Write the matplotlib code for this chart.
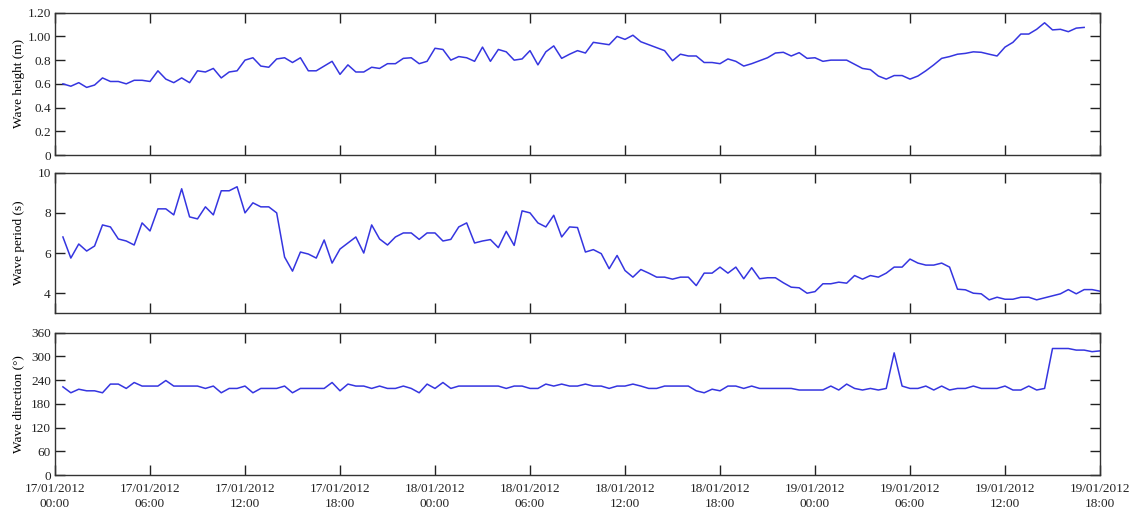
import numpy as np
import pandas as pd
import matplotlib
matplotlib.use("Agg")
import matplotlib.pyplot as plt
import matplotlib.dates as mdates

plt.rcParams['font.family'] = ['Liberation Serif', 'DejaVu Serif']

# Wave height (m), half-hourly from 17/01/2012 00:30
height = [0.60, 0.58, 0.61, 0.57, 0.59, 0.65, 0.62, 0.62, 0.60, 0.63, 0.63, 0.62, 0.71, 0.64, 0.61,
          0.65, 0.61, 0.71, 0.70, 0.73, 0.65, 0.70, 0.71, 0.80, 0.82, 0.75, 0.74, 0.81, 0.82, 0.78,
          0.82, 0.71, 0.71, 0.75, 0.79, 0.68, 0.76, 0.70, 0.70, 0.74, 0.73, 0.77, 0.77,
          0.815, 0.82, 0.77, 0.79, 0.90, 0.89, 0.80, 0.83, 0.82, 0.79, 0.91, 0.79, 0.89, 0.87, 0.80,
          0.81, 0.88, 0.76, 0.87, 0.92, 0.815, 0.85, 0.88, 0.86, 0.95, 0.94, 0.93, 1.00, 0.975, 1.01,
          0.955, 0.93, 0.905, 0.88, 0.795, 0.85, 0.835, 0.835, 0.78, 0.78, 0.77, 0.81, 0.79, 0.75,
          0.77, 0.795, 0.82, 0.86,
          0.866, 0.835, 0.863, 0.815, 0.82, 0.79, 0.80, 0.80, 0.80, 0.765, 0.73, 0.72, 0.666, 0.64,
          0.67, 0.67, 0.64, 0.666, 0.71, 0.76, 0.815, 0.83, 0.85, 0.857, 0.87, 0.866, 0.85, 0.835,
          0.91, 0.95, 1.02, 1.02, 1.06, 1.115, 1.055, 1.06, 1.04, 1.07, 1.076]

# Wave period (s)
period = [6.8, 5.75, 6.45, 6.1, 6.35, 7.4, 7.3, 6.7, 6.6, 6.4, 7.5, 7.1, 8.2, 8.2, 7.9, 9.2, 7.8,
          7.7, 8.3, 7.9, 9.1, 9.1, 9.3, 8.0, 8.5, 8.3, 8.3, 8.0, 5.8, 5.1, 6.05, 5.95, 5.75, 6.65,
          5.5, 6.2, 6.5, 6.8, 6.0, 7.4, 6.7, 6.4, 6.8,
          7.0, 7.0, 6.68, 7.0, 7.0, 6.6, 6.68, 7.3, 7.5, 6.5, 6.6, 6.67, 6.27, 7.08, 6.38, 8.1, 8.0,
          7.5, 7.3, 7.88, 6.8, 7.3, 7.27, 6.05, 6.17, 5.97, 5.22, 5.88, 5.13, 4.8, 5.18, 5.0, 4.8,
          4.8, 4.7, 4.8, 4.8, 4.38, 5.0, 5.0, 5.3, 5.0, 5.3, 4.72, 5.27, 4.72, 4.77, 4.77,
          4.52, 4.3, 4.27, 4.0, 4.08, 4.47, 4.47, 4.55, 4.5, 4.88, 4.7, 4.88, 4.8, 5.0, 5.3, 5.3,
          5.7, 5.5, 5.4, 5.4, 5.5, 5.3, 4.2, 4.17, 4.0, 3.97, 3.67, 3.8, 3.7, 3.7, 3.8, 3.8, 3.67,
          3.77, 3.87, 3.97, 4.18, 3.97, 4.18, 4.18, 4.1]

# Wave direction (deg)
direction = [223, 208, 217, 213, 213, 208, 230, 230, 219, 234, 225, 225, 225, 239, 225, 225, 225,
             225, 219, 225, 208, 219, 219, 225, 208, 219, 219, 219, 225, 208, 219, 219, 219, 219,
             234, 213, 230, 225, 225, 219, 225, 219, 219,
             225, 219, 208, 230, 219, 234, 219, 225, 225, 225, 225, 225, 225, 219, 225, 225, 219,
             219, 230, 225, 230, 225, 225, 230, 225, 225, 219, 225, 225, 230, 225, 219, 219, 225,
             225, 225, 225, 213, 208, 217, 213, 225, 225, 219, 225, 219, 219, 219,
             219, 219, 215, 215, 215, 215, 225, 215, 230, 219, 215, 219, 215, 219, 309, 225, 219,
             219, 225, 215, 225, 215, 219, 219, 225, 219, 219, 219, 225, 215, 215, 225, 215, 219,
             320, 320, 320, 316, 316, 312, 314]

start = pd.Timestamp('2012-01-17 00:30')
t_h = pd.date_range(start, periods=len(height), freq='30min')
t_p = pd.date_range(start, periods=len(period), freq='30min')
t_d = pd.date_range(start, periods=len(direction), freq='30min')

xmin = pd.Timestamp('2012-01-17 00:00')
xmax = pd.Timestamp('2012-01-19 18:00')
xticks = pd.date_range(xmin, xmax, freq='6h')

W, H = 1146, 512
fig = plt.figure(figsize=(W / 100, H / 100), dpi=100)
left, right = 55 / W, 1100 / W


def mkax(top_px, bot_px):
    return fig.add_axes([left, 1 - bot_px / H, right - left, (bot_px - top_px) / H])


ax1 = mkax(12.7, 155)
ax2 = mkax(172.7, 313.3)
ax3 = mkax(332.7, 475)

color = '#3535e0'
ax1.plot(t_h, height, color=color, lw=1.1)
ax2.plot(t_p, period, color=color, lw=1.1)
ax3.plot(t_d, direction, color=color, lw=1.1)

ax1.set_ylim(0, 1.2)
ax1.set_yticks([0, 0.2, 0.4, 0.6, 0.8, 1.0, 1.2])
ax1.set_yticklabels(['0', '0.2', '0.4', '0.6', '0.8', '1.00', '1.20'])
ax1.set_ylabel('Wave height (m)')

ax2.set_ylim(3, 10)
ax2.set_yticks([4, 6, 8, 10])
ax2.set_yticklabels(['4', '6', '8', '10'])
ax2.set_ylabel('Wave period (s)')

ax3.set_ylim(0, 360)
ax3.set_yticks([0, 60, 120, 180, 240, 300, 360])
ax3.set_ylabel('Wave direction (°)')

for ax in (ax1, ax2, ax3):
    ax.set_xlim(xmin, xmax)
    ax.set_xticks(xticks)
    ax.tick_params(direction='in', length=7, width=1, top=True, right=True,
                   labelsize=9.5, colors='#222222', pad=3)
    ax.tick_params(axis='x', pad=6)
    for s in ax.spines.values():
        s.set_linewidth(1)
        s.set_color('#333333')
    ax.yaxis.label.set_size(9.5)
    ax.yaxis.set_label_coords(-0.029, 0.5)

ax1.set_xticklabels([])
ax2.set_xticklabels([])
ax3.xaxis.set_major_formatter(mdates.DateFormatter('%d/%m/%Y\n%H:%M'))
for lab in ax3.get_xticklabels():
    lab.set_linespacing(1.3)

fig.savefig('out.png', dpi=100, facecolor='white')
